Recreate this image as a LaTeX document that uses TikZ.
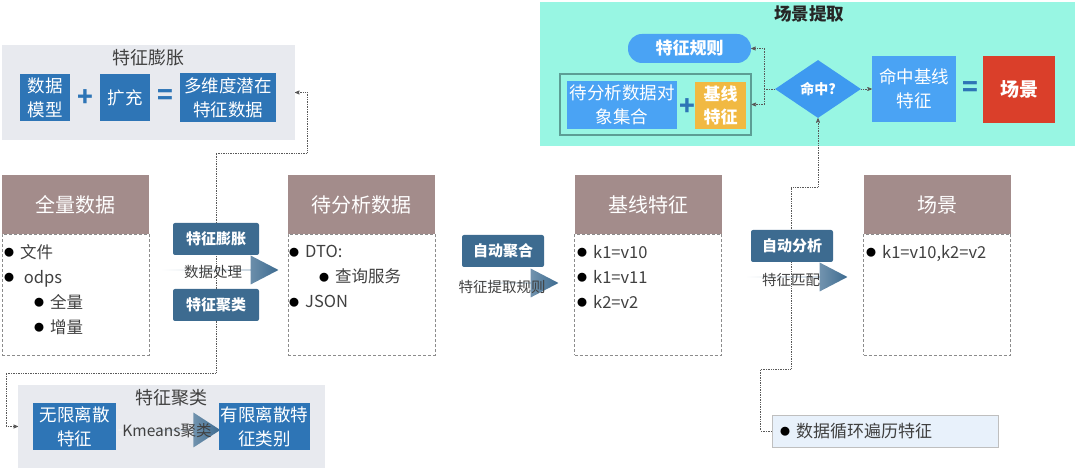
\documentclass[tikz,border=0pt]{standalone}
\usepackage{fontspec}
\setmainfont{Noto Sans CJK SC}
\usepackage{tikz}
\usetikzlibrary{positioning}
\usetikzlibrary{shapes.geometric}
\usetikzlibrary{shapes.arrows}
\usetikzlibrary{arrows}

\definecolor{panelgrey}{HTML}{E8EAEF}
\definecolor{boxblue}{HTML}{2E75B6}
\definecolor{lightblue}{HTML}{4AA3F4}
\definecolor{hitblue}{HTML}{3E9AF0}
\definecolor{headbrown}{HTML}{A38C8B}
\definecolor{stepblue}{HTML}{3D6B90}
\definecolor{scenecyan}{HTML}{98F6E3}
\definecolor{groupline}{HTML}{5C9E95}
\definecolor{baseorange}{HTML}{F1B942}
\definecolor{scenered}{HTML}{DA3F2A}
\definecolor{loopfill}{HTML}{E8F1FB}
\definecolor{textgrey}{HTML}{404040}

\newcommand{\fs}[2]{\fontsize{#1}{#2}\selectfont}
\newcommand{\bul}{\makebox[16pt][l]{\raisebox{1.5pt}{\color{black}\fs{10}{10}●}}}
\newcommand{\sub}{\hspace*{30pt}}

\tikzset{
  panel/.style={fill=panelgrey, inner sep=0, outer sep=0},
  paneltitle/.style={text=textgrey, font=\fs{18}{22}},
  bluebox/.style={fill=boxblue, text=white, align=center, inner sep=0, font=\fs{17.5}{24}},
  lightbox/.style={fill=lightblue, text=white, align=center, inner sep=0, font=\fs{17.5}{24}},
  sign/.style={text=boxblue, inner sep=0, font=\fs{26}{26}\bfseries},
  cardhead/.style={fill=headbrown, text=white, minimum width=147, minimum height=59, inner sep=0, outer sep=0, font=\fs{20}{24}},
  cardbody/.style={draw=black!45, densely dashed, line width=0.5pt, minimum width=147, minimum height=121, inner sep=0, outer sep=0},
  itemlist/.style={anchor=north west, align=left, inner sep=0, text=textgrey, font=\fs{16.5}{25}},
  stepbox/.style={fill=stepblue, text=white, rounded corners=2pt, minimum width=86, minimum height=32, inner sep=0, font=\fs{15}{18}\bfseries},
  fatarrow/.style={single arrow, left color=white, right color=stepblue, inner sep=0, minimum width=29, single arrow head extend=6, single arrow tip angle=55},
  arrowlabel/.style={text=textgrey, inner sep=0, font=\fs{14.5}{17}},
  pill/.style={fill=lightblue, text=white, rounded corners=14pt, minimum width=123, minimum height=29, inner sep=0, font=\fs{17}{20}\bfseries},
  loopbox/.style={fill=loopfill, draw=black!25, minimum height=32, text width=210, inner xsep=8, align=left, text=textgrey, font=\fs{17}{20}},
  dotline/.style={densely dotted, draw=black!65, line width=0.7pt, >=stealth'}
}

\begin{document}
\begin{tikzpicture}[x=1pt,y=-1pt]
\useasboundingbox (0,0) rectangle (1080,470);

% feature expansion
\node[panel, minimum width=293, minimum height=95] (expandpanel) at (148.5,92.5) {};
\node[paneltitle] at (148,58) {特征膨胀};
\node[bluebox, minimum width=50, minimum height=47] (model) at (45,97.5) {数据\\模型};
\node[sign] at (85,98) {+};
\node[bluebox, minimum width=50, minimum height=47] (extend) at (125,97.5) {扩充};
\node[sign] at (165,97) {=};
\node[bluebox, minimum width=96, minimum height=49] (latent) at (228,97.5) {多维度潜在\\特征数据};

% feature clustering
\node[panel, minimum width=307, minimum height=83] (clusterpanel) at (171.5,426.5) {};
\node[paneltitle] at (171,398) {特征聚类};
\node[bluebox, minimum width=83, minimum height=47] (infinite) at (74.5,426.5) {无限离散\\特征};
\node[fatarrow, minimum height=102, minimum width=35, single arrow head extend=9, single arrow tip angle=66] (kmarrow) at (169,430) {};
\node[arrowlabel, font=\fs{15.5}{18}] at (167,431) {Kmeans聚类};
\node[bluebox, minimum width=91, minimum height=47] (finite) at (264.5,426.5) {有限离散特\\征类别};

% scene extraction
\node[fill=scenecyan, minimum width=535, minimum height=144, inner sep=0] (scenepanel) at (807.5,74) {};
\node[font=\fs{17.5}{20}\bfseries, text=black!85] at (809,14) {场景提取};
\node[pill] (rule) at (689.5,48.5) {特征规则};
\node[draw=groupline, line width=1.2pt, minimum width=191, minimum height=61, inner sep=0] (group) at (655.5,104.5) {};
\node[lightbox, minimum width=110, minimum height=48] (set) at (622,105) {待分析数据对\\象集合};
\node[sign] at (687,107) {+};
\node[fill=baseorange, text=white, align=center, minimum width=51, minimum height=47, inner sep=0, font=\fs{17}{23}\bfseries] (base) at (720.5,105.5) {基线\\特征};
\node[diamond, fill=hitblue, text=white, minimum width=86, minimum height=58, inner sep=0, font=\fs{14}{16}\bfseries] (hit) at (818,89) {命中?};
\node[lightbox, minimum width=84, minimum height=66] (hitfeat) at (914,89) {命中基线\\特征};
\node[sign] at (970,89) {=};
\node[fill=scenered, text=white, minimum width=72, minimum height=67, inner sep=0, font=\fs{19}{22}\bfseries] (scene) at (1019,89.5) {场景};

\draw[dotline,->] (hit.west) -- ++(-10,0) |- (rule.east);
\draw[dotline,->] (hit.west) -- ++(-10,0) |- (group.east);
\draw[dotline,->] (hit.east) -- (hitfeat.west);

% cards
\node[cardhead] (allhead) at (75.5,205) {全量数据};
\node[cardbody, below=0pt of allhead] (allbody) {};
\node[itemlist] (alllist) at (4,244) {\bul 文件\\\bul \ odps\\\sub\bul 全量\\\sub\bul 增量};

\node[cardhead] (todohead) at (361.5,205) {待分析数据};
\node[cardbody, below=0pt of todohead] (todobody) {};
\node[itemlist] (todolist) at (289,245) {\bul DTO:\\\sub\bul 查询服务\\\bul JSON};

\node[cardhead] (basehead) at (648,205) {基线特征};
\node[cardbody, below=0pt of basehead] (basebody) {};
\node[itemlist] (baselist) at (577,245) {\bul k1=v10\\\bul k1=v11\\\bul k2=v2};

\node[cardhead] (scenehead) at (937,205) {场景};
\node[cardbody, below=0pt of scenehead] (scenebody) {};
\node[itemlist] (scenelist) at (866,245) {\bul k1=v10,k2=v2};

\node[loopbox] (loop) at (885,431) {\bul 数据循环遍历特征};

% dotted links
\draw[dotline,<->] (expandpanel.east) -- ++(12,0) |- (216,153) |- (6,373) |- (clusterpanel.west);
\draw[dotline,->] (loop.west) -- ++(-11,0) |- (791,369) |- (818,187) -- (hit.south);

% steps
\node[fatarrow, minimum height=118] (arr1) at (219,270) {};
\node[arrowlabel] at (213,272) {数据处理};
\node[stepbox] (swell) at (216,239) {特征膨胀};
\node[stepbox] (cluster) at (216,305) {特征聚类};

\node[fatarrow, minimum height=103] (arr2) at (506.5,283) {};
\node[arrowlabel] at (502,287) {特征提取规则};
\node[stepbox, minimum width=82] (aggregate) at (503,251) {自动聚合};

\node[fatarrow, minimum height=102] (arr3) at (796,277) {};
\node[arrowlabel] at (791,280) {特征匹配};
\node[stepbox, minimum width=82] (analyse) at (792,246) {自动分析};

\end{tikzpicture}
\end{document}
